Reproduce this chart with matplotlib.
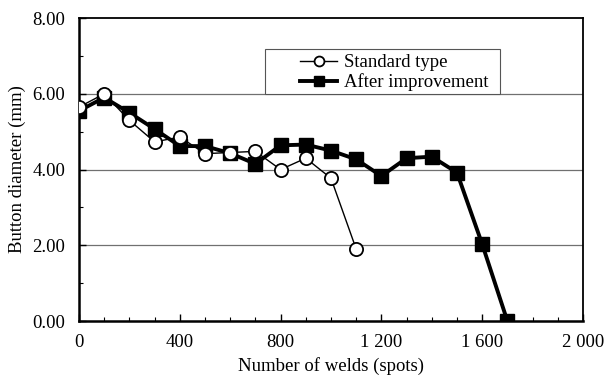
import matplotlib.pyplot as plt
from matplotlib.patches import Rectangle
from matplotlib.ticker import MultipleLocator, FuncFormatter

# weld counts and button diameters
welds_std = [0, 100, 200, 300, 400, 500, 600, 700, 800, 900, 1000, 1100]
diam_std = [5.65, 6.0, 5.3, 4.73, 4.86, 4.42, 4.45, 4.48, 4.0, 4.3, 3.77, 1.9]

welds_imp = [0, 100, 200, 300, 400, 500, 600, 700, 800, 900, 1000, 1100,
             1200, 1300, 1400, 1500, 1600, 1700]
diam_imp = [5.55, 5.9, 5.5, 5.07, 4.62, 4.62, 4.43, 4.15, 4.64, 4.66, 4.5, 4.27,
            3.83, 4.3, 4.34, 3.92, 2.03, 0.0]

labels = ['Standard type', 'After improvement']

plt.rcParams['font.family'] = ['Liberation Serif', 'DejaVu Serif']
fs = 13.5

fig = plt.figure(figsize=(6.04, 3.77), dpi=100)
ax = fig.add_axes([0.1308, 0.1485, 0.8344, 0.8035])

# horizontal grid
for y in [2, 4, 6]:
    ax.axhline(y, color='#707070', lw=0.9, zorder=0)

ax.plot(welds_std, diam_std, color='black', lw=1.0, marker='o', ms=9.5,
        mfc='white', mec='black', mew=1.3, label=labels[0], zorder=3)
ax.plot(welds_imp, diam_imp, color='black', lw=2.8, marker='s', ms=10,
        mfc='black', mec='black', label=labels[1], zorder=2)

ax.set_xlim(0, 2000)
ax.set_ylim(0, 8)
ax.xaxis.set_major_locator(MultipleLocator(400))
ax.xaxis.set_minor_locator(MultipleLocator(100))
ax.yaxis.set_major_locator(MultipleLocator(2))
ax.yaxis.set_minor_locator(MultipleLocator(1))
ax.xaxis.set_major_formatter(FuncFormatter(lambda v, p: f'{int(v):,}'.replace(',', ' ')))
ax.yaxis.set_major_formatter(FuncFormatter(lambda v, p: f'{v:.2f}'))

ax.tick_params(which='both', direction='in', labelsize=fs, top=False, right=False)
ax.tick_params(which='major', length=5, width=1)
ax.tick_params(which='minor', length=3, width=0.8)
ax.tick_params(axis='x', pad=9)
ax.tick_params(axis='y', pad=10)

for side in ['left', 'bottom']:
    ax.spines[side].set_linewidth(1.8)
for side in ['top', 'right']:
    ax.spines[side].set_linewidth(1.3)

ax.set_xlabel('Number of welds (spots)', fontsize=fs, labelpad=5)
ax.set_ylabel('Button diameter (mm)', fontsize=fs, labelpad=4.5)

# legend box drawn separately, entries placed inside it
ax.add_patch(Rectangle((0.369, 0.749), 0.466, 0.149, transform=ax.transAxes,
                       fill=True, fc='white', ec='#555555', lw=0.8, zorder=4))
leg = ax.legend(loc='center left', bbox_to_anchor=(0.4385, 0.82), fontsize=fs,
                frameon=False, handlelength=2.0, borderpad=0, labelspacing=0.12,
                handletextpad=0.35, borderaxespad=0, markerscale=0.75)
leg.set_zorder(5)

fig.savefig('out.png', dpi=100)
